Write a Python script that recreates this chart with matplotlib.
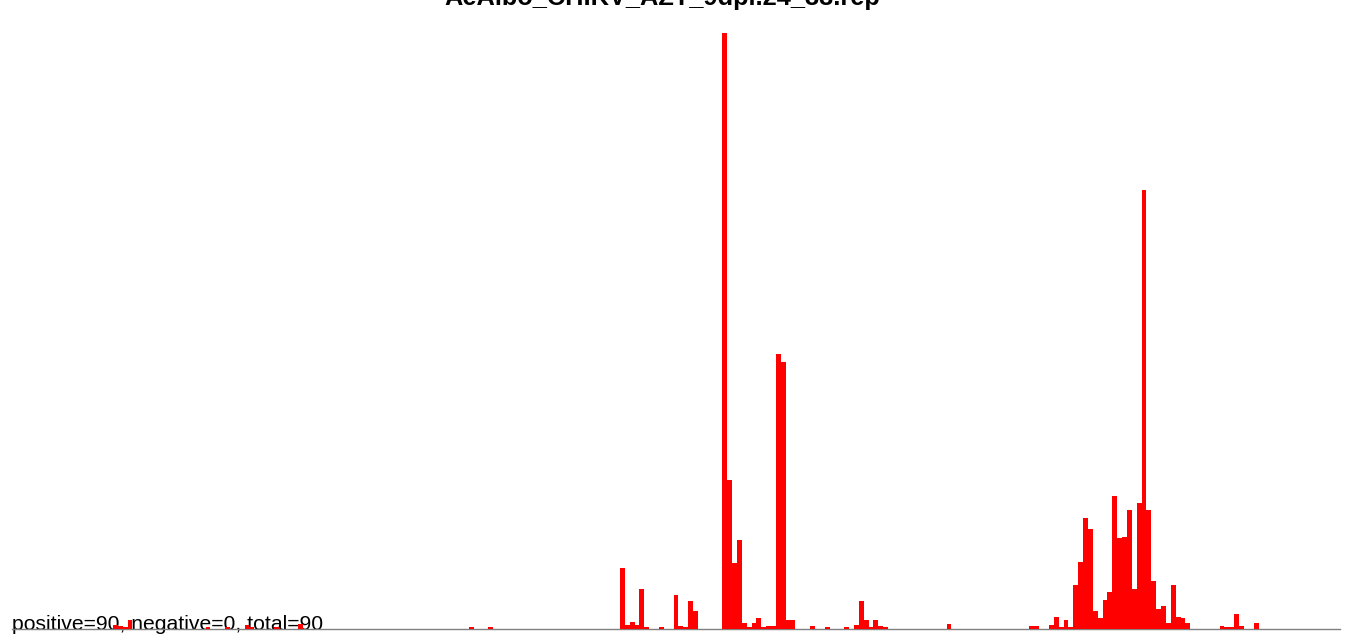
import numpy as np
import matplotlib
matplotlib.use('Agg')
import matplotlib.pyplot as plt

plt.rcParams['font.family'] = ['Liberation Sans', 'DejaVu Sans']

title = 'AeAlbo_CHIKV_AZT_9dpi.24_33.rep'
note = 'positive=90, negative=0, total=90'

# bin index along the read, and bar height
bins = [21, 22, 23, 24, 40, 44, 48, 49, 54, 59, 94, 98,
        125, 126, 127, 128, 129, 130, 133, 136, 137, 138, 139, 140,
        146, 147, 148, 149, 150, 151, 152, 153, 154, 155, 156, 157, 158, 159, 160,
        164, 167, 171, 173, 174, 175, 176, 177, 178, 179, 192,
        209, 210, 213, 214, 215, 216, 217, 218, 219, 220, 221, 222, 223, 224,
        225, 226, 227, 228, 229, 230, 231, 232, 233, 234, 235, 236, 237, 238,
        239, 240, 241, 248, 249, 250, 251, 252, 255]
heights = [4, 3, 2, 9, 2, 2, 4, 2, 2, 5, 2, 2,
           61, 4, 7, 4, 40, 2, 2, 34, 3, 2, 28, 18,
           596, 149, 66, 89, 6, 2, 6, 11, 2, 3, 3, 275, 267, 9, 9,
           3, 2, 2, 4.5, 28, 9, 2, 9, 3, 2, 5,
           3, 3, 4, 12, 2, 9, 2, 44, 67, 111, 100, 18, 11, 29,
           37, 133, 91, 92, 119, 40, 126, 439, 119, 48, 20, 23, 6, 44,
           12, 11, 6, 3, 2, 2, 15, 3, 6]

W, H = 1352, 641
fig = plt.figure(figsize=(W / 100, H / 100), dpi=100)
ax = fig.add_axes([12 / W, (H - 629) / H, 1328 / W, 596 / H])
ax.patch.set_visible(False)

ax.bar(bins, heights, width=1.0, align='edge', color='#ff0000', linewidth=0, zorder=3)
ax.set_xlim(0.3, 272.7)
ax.set_ylim(0, 596)

for s in ['top', 'right', 'left']:
    ax.spines[s].set_visible(False)
ax.spines['bottom'].set_color('#808080')
ax.spines['bottom'].set_linewidth(1.0)
ax.spines['bottom'].set_zorder(2)
ax.set_xticks([])
ax.set_yticks([])

fig.text(662 / W, 1 - 5 / H, title, ha='center', va='baseline',
         fontsize=18.3, fontweight='bold')
# the note sits under the bars, as in the original
fig.text(12 / W, (H - 630) / H, note, ha='left', va='baseline', fontsize=15.2,
         zorder=-1)

fig.savefig('out.png', dpi=100)
